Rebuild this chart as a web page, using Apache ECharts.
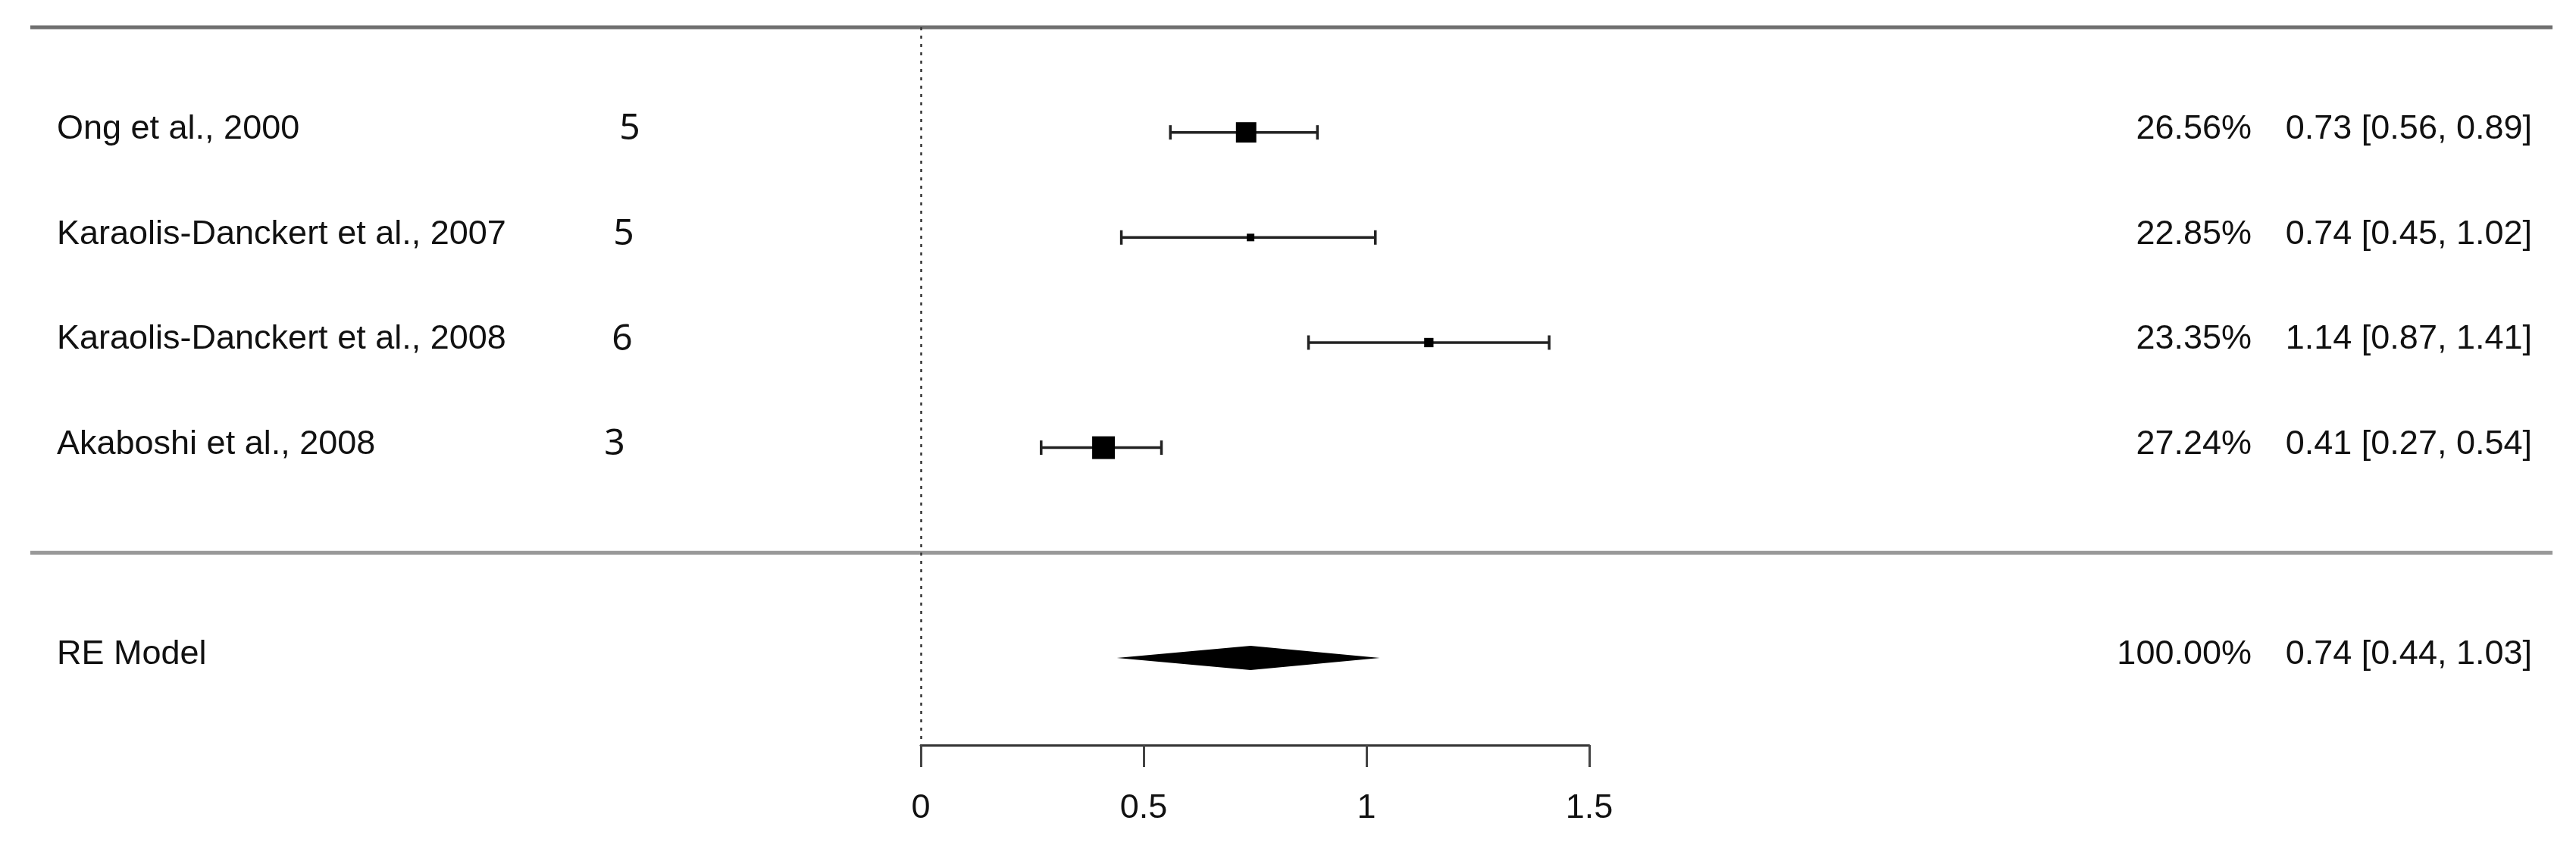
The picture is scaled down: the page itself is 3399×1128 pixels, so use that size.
<!DOCTYPE html>
<html>
<head>
<meta charset="utf-8">
<script src="https://cdn.jsdelivr.net/npm/echarts@6/dist/echarts.min.js"></script>
<style>
  html, body { margin: 0; padding: 0; background: #fff; }
  #chart { width: 3399px; height: 1128px; }
</style>
</head>
<body>
<div id="chart"></div>
<script>
// study rows
const studies = ['Ong et al., 2000', 'Karaolis-Danckert et al., 2007', 'Karaolis-Danckert et al., 2008', 'Akaboshi et al., 2008'];
const counts = [5, 5, 6, 3];
const weights = [26.56, 22.85, 23.35, 27.24];
const estimates = [0.73, 0.74, 1.14, 0.41];
const lower = [0.56, 0.45, 0.87, 0.27];
const upper = [0.89, 1.02, 1.41, 0.54];

// pooled estimate
const pooledLabel = 'RE Model';
const pooledWeight = 100.0;
const pooledEst = 0.74;
const pooledLower = 0.44;
const pooledUpper = 1.03;

const xTicks = [0, 0.5, 1, 1.5];

// layout
const FONT = '"Liberation Sans", Arial, sans-serif';
const labelX = 75;
const countX = [831, 823, 821, 811];
const weightRight = 2971;
const ciRight = 3341;
const lineLeft = 40;
const lineRight = 3368;
const textShift = -4;

const wMin = Math.min(...weights);
const wMax = Math.max(...weights);
const boxSize = (w) => 10 + 20 * (w - wMin) / (wMax - wMin);
const fmt = (v) => v.toFixed(2);

const rows = studies.map((s, i) => [lower[i], upper[i], estimates[i], i + 1, weights[i]]);

function text(x, y, str, align, font, size) {
  return {
    type: 'text',
    style: {
      x: x, y: y + textShift, text: str,
      align: align, verticalAlign: 'middle',
      font: size + 'px ' + font, fill: '#111'
    }
  };
}

function renderStudy(params, api) {
  const i = params.dataIndex;
  const lo = api.coord([api.value(0), api.value(3)]);
  const hi = api.coord([api.value(1), api.value(3)]);
  const pt = api.coord([api.value(2), api.value(3)]);
  const s = boxSize(api.value(4));
  const y = pt[1];
  const ls = { stroke: '#222', lineWidth: 3.5 };
  return {
    type: 'group',
    children: [
      { type: 'line', shape: { x1: lo[0], y1: y, x2: hi[0], y2: y }, style: ls },
      { type: 'line', shape: { x1: lo[0], y1: y - 9.5, x2: lo[0], y2: y + 9.5 }, style: ls },
      { type: 'line', shape: { x1: hi[0], y1: y - 9.5, x2: hi[0], y2: y + 9.5 }, style: ls },
      { type: 'rect', shape: { x: pt[0] - s / 2, y: y - s / 2, width: s, height: s }, style: { fill: '#000' } },
      text(labelX, y, studies[i], 'left', FONT, 45),
      text(countX[i], y, String(counts[i]), 'center', '"Noto Sans", "Open Sans", sans-serif', 48),
      text(weightRight, y, fmt(weights[i]) + '%', 'right', FONT, 45),
      text(ciRight, y, fmt(estimates[i]) + ' [' + fmt(lower[i]) + ', ' + fmt(upper[i]) + ']', 'right', FONT, 45)
    ]
  };
}

function renderPooled(params, api) {
  const row = api.value(3);
  const lo = api.coord([api.value(0), row]);
  const hi = api.coord([api.value(1), row]);
  const pt = api.coord([api.value(2), row]);
  const y = pt[1];
  return {
    type: 'group',
    children: [
      {
        type: 'polygon',
        shape: { points: [[lo[0], y], [pt[0], y - 16], [hi[0], y], [pt[0], y + 16]] },
        style: { fill: '#000' }
      },
      text(labelX, y, pooledLabel, 'left', FONT, 45),
      text(weightRight, y, fmt(pooledWeight) + '%', 'right', FONT, 45),
      text(ciRight, y, fmt(pooledEst) + ' [' + fmt(pooledLower) + ', ' + fmt(pooledUpper) + ']', 'right', FONT, 45)
    ]
  };
}

function renderRule(params, api) {
  const y = api.coord([0, api.value(0)])[1];
  return {
    type: 'line',
    shape: { x1: lineLeft, y1: y, x2: lineRight, y2: y },
    style: { stroke: params.dataIndex === 0 ? '#707070' : '#999', lineWidth: 5 }
  };
}

const chart = echarts.init(document.getElementById('chart'));
chart.setOption({
  animation: false,
  backgroundColor: '#fff',
  grid: { left: 1215, right: 1302, top: 36, bottom: 145 },
  xAxis: {
    type: 'value',
    position: 'bottom',
    min: xTicks[0],
    max: xTicks[xTicks.length - 1],
    interval: xTicks[1] - xTicks[0],
    axisLine: { show: true, onZero: false, lineStyle: { color: '#333', width: 3 } },
    axisTick: { show: true, length: 29, lineStyle: { color: '#444', width: 3 } },
    axisLabel: { show: true, margin: 61, fontSize: 45, fontFamily: FONT, color: '#111' },
    splitLine: { show: false }
  },
  yAxis: { type: 'value', min: 0, max: 6.83, inverse: true, show: false },
  series: [
    {
      type: 'custom',
      renderItem: renderRule,
      data: [[0], [5]],
      encode: { y: 0 },
      silent: true,
      z: 1
    },
    {
      type: 'custom',
      renderItem: renderStudy,
      data: rows,
      encode: { x: [0, 1, 2], y: 3 },
      z: 3,
      markLine: {
        silent: true,
        symbol: 'none',
        label: { show: false },
        lineStyle: { color: '#333', width: 2.5, type: [4, 7] },
        data: [{ xAxis: 0 }]
      }
    },
    {
      type: 'custom',
      renderItem: renderPooled,
      data: [[pooledLower, pooledUpper, pooledEst, 6]],
      encode: { x: [0, 1, 2], y: 3 },
      z: 3
    }
  ]
});
</script>
</body>
</html>
